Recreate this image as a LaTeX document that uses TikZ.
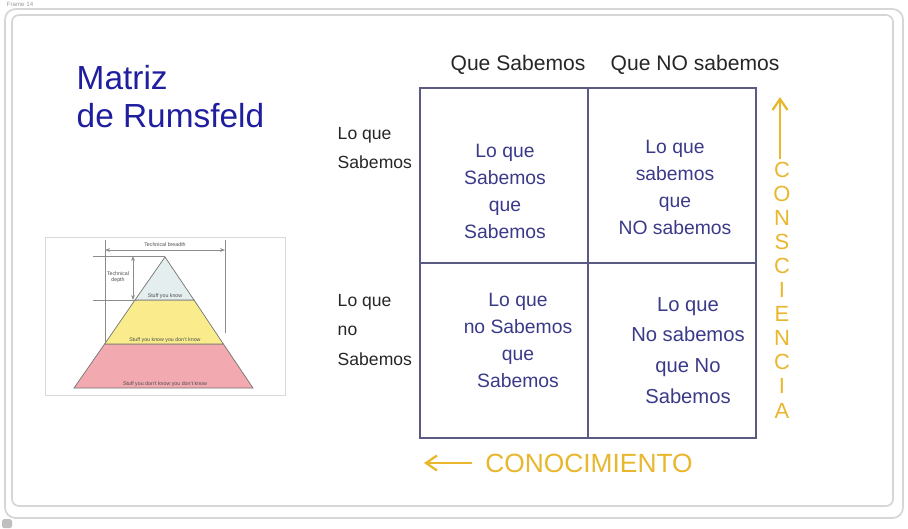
\documentclass[tikz,border=0pt]{standalone}
\usepackage{fontspec}
\setmainfont{Liberation Sans}
\usetikzlibrary{arrows.meta, positioning}
\definecolor{cnavy}{HTML}{1E1E9E}
\definecolor{cink}{HTML}{3A3A88}
\definecolor{cgrid}{HTML}{5A5A82}
\definecolor{cgold}{HTML}{E8B72E}
\definecolor{cframe}{HTML}{D6D6D6}
\definecolor{ctop}{HTML}{E4EEEE}
\definecolor{cmid}{HTML}{FAEC8C}
\definecolor{cbot}{HTML}{F2AAB0}
\tikzset{
  every picture/.style={x=0.02cm, y=-0.02cm, line width=1pt},
  cell/.style={draw=cgrid, line width=1.6pt, outer sep=0pt, inner sep=0pt, minimum width=3.36cm, minimum height=3.5cm},
  celltext/.style={text=cink, align=center, font=\fontsize{11}{15.5}\selectfont},
  rowlabel/.style={anchor=west, align=left, text=black!85, font=\fontsize{10}{17}\selectfont},
  colhead/.style={text=black!85, font=\fontsize{12}{14}\selectfont},
  title/.style={text=cnavy, align=left, font=\fontsize{19}{21.6}\selectfont},
  axis/.style={text=cgold, inner sep=1pt},
  goldarrow/.style={-{Straight Barb[length=2.2mm, width=3mm]}, draw=cgold, line width=1.3pt},
  tinytext/.style={text=black!70, align=center, inner sep=0pt, font=\fontsize{3}{3.6}\selectfont},
  dimline/.style={draw=black!45, line width=0.3pt},
  layer/.style={draw=black!55, line width=0.4pt},
}

\begin{document}
\begin{tikzpicture}
  \useasboundingbox (0,0) rectangle (908,528);
  % frame of the slide
  \draw[cframe, rounded corners=6pt] (5,9) rectangle (903,518);
  \draw[cframe, rounded corners=4pt] (12,15) rectangle (893,506);
  \node[anchor=north west, text=black!40, inner sep=0pt, font=\fontsize{3.5}{4}\selectfont] (frm) at (6,1) {Frame 14};
  \fill[black!25, rounded corners=1pt] (2,519) rectangle (12,528);

  % title
  \node[title, anchor=west] (title) at (70,97) {Matriz\\de Rumsfeld};

  % left: the breadth / depth pyramid
  \draw[black!15, line width=0.5pt] (45,237) rectangle (285,395);
  \draw[layer, fill=cbot] (104.6,344) -- (223.4,344) -- (253,388) -- (74,388) -- cycle;
  \draw[layer, fill=cmid] (135,300) -- (194,300) -- (223.4,344) -- (104.6,344) -- cycle;
  \draw[layer, fill=ctop] (165,257) -- (194,300) -- (135,300) -- cycle;
  \coordinate (bl1) at (105,250);
  \coordinate (br1) at (225,250);
  \draw[dimline] (105,240) -- (105,343);
  \draw[dimline] (225,240) -- (225,333);
  \draw[dimline, {Stealth[length=1mm]}-{Stealth[length=1mm]}] (bl1) -- (br1);
  \draw[dimline] (93,256) -- (165,256);
  \draw[dimline] (93,300) -- (137,300);
  \coordinate (dp1) at (133,256);
  \coordinate (dp2) at (133,300);
  \draw[dimline, {Stealth[length=1mm]}-{Stealth[length=1mm]}] (dp1) -- (dp2);
  \node[tinytext] (breadth) at (165,245) {Technical breadth};
  \node[tinytext] (depth) at (118,277) {Technical\\depth};
  \node[tinytext] (know) at (165,296) {Stuff you know};
  \node[tinytext] (knowdont) at (165,340) {Stuff you know you don't know};
  \node[tinytext] (dontdont) at (165,384) {Stuff you don't know you don't know};

  % right: the 2x2 matrix
  \node[cell] (tl) at (504,175.5) {};
  \node[cell, right=0pt of tl] (tr) {};
  \node[cell, below=0pt of tl] (bl) {};
  \node[cell, right=0pt of bl] (br) {};
  \node[celltext] (tlt) at ([shift={(1,16)}]tl.center) {Lo que\\Sabemos\\que\\Sabemos};
  \node[celltext] (trt) at ([shift={(3,12)}]tr.center) {Lo que\\sabemos\\que\\NO sabemos};
  \node[celltext] (blt) at ([shift={(14,-10)}]bl.center) {Lo que\\no Sabemos\\que\\Sabemos};
  \node[celltext, font=\fontsize{11.5}{17.5}\selectfont] (brt) at ([shift={(16,0)}]br.center) {Lo que\\No sabemos\\que No\\Sabemos};

  \node[colhead] (hsab) at (518,65) {Que Sabemos};
  \node[colhead] (hnosab) at (695,65) {Que NO sabemos};
  \node[rowlabel] (rsab) at (331,148) {Lo que\\Sabemos};
  \node[rowlabel] (rnosab) at (331,330) {Lo que\\no\\Sabemos};

  % axes
  \node[axis, align=center, font=\fontsize{12.5}{13.7}\selectfont] (consc) at (782,290) {C\\O\\N\\S\\C\\I\\E\\N\\C\\I\\A};
  \coordinate (upend) at (780,97);
  \draw[goldarrow] (consc.north -| upend) -- (upend);
  \node[axis, font=\fontsize{15}{17}\selectfont] (conoc) at (589,463) {CONOCIMIENTO};
  \coordinate (leftend) at (424,463);
  \draw[goldarrow] ([xshift=-6pt]conoc.west) -- (leftend);
\end{tikzpicture}
\end{document}
